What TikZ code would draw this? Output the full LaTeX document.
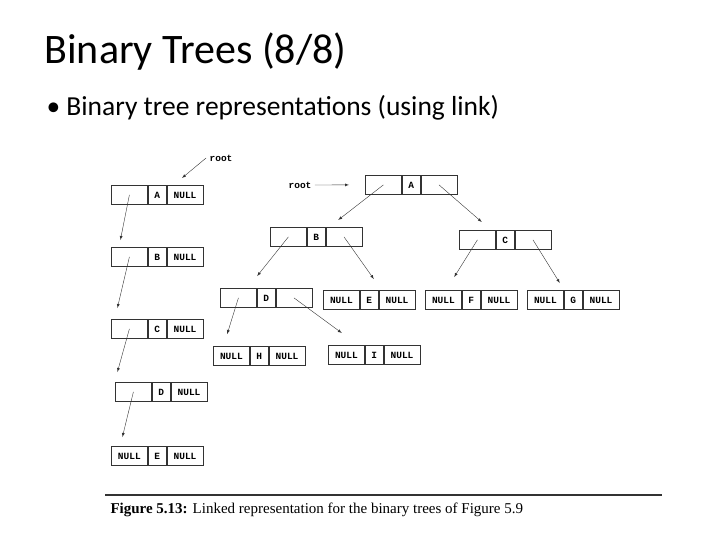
\documentclass[tikz,border=0pt]{standalone}
\usepackage{fontspec}
\setmainfont{Carlito}
\newfontfamily\figfont{Liberation Serif}
\newfontfamily\cellfont{Liberation Mono}
\usetikzlibrary{positioning}
\tikzset{
  cell/.style={draw,thick,black!80,minimum height=19pt,minimum width=36pt,inner sep=0pt,
    text height=6.5pt,text depth=0pt,
    font=\cellfont\bfseries\fontsize{9.5}{10}\selectfont,text=black},
  dcell/.style={cell,minimum width=18pt},
  link/.style={-latex,black!80}
}
% one linked node: name, x, y, left, data, right
\newcommand{\lnode}[6]{%
  \node[cell,anchor=north west] (#1-l) at (#2,#3) {#4};
  \node[dcell,right=0pt of #1-l] (#1-d) {#5};
  \node[cell,right=0pt of #1-d] (#1-r) {#6};
}
\begin{document}
\begin{tikzpicture}[x=1pt,y=-1pt]
  \useasboundingbox (0,0) rectangle (720,540);
  \node[anchor=west,font=\fontsize{42}{46}\selectfont] (title) at (41,52) {Binary Trees (8/8)};
  \node[anchor=west,font=\fontsize{27.5}{30}\selectfont] (sub) at (43,108) {\textbullet{} Binary tree representations (using link)};

  % skewed tree
  \lnode{sA}{111}{185}{}{A}{NULL}
  \lnode{sB}{111}{247}{}{B}{NULL}
  \lnode{sC}{111}{319}{}{C}{NULL}
  \lnode{sD}{115}{382}{}{D}{NULL}
  \lnode{sE}{111}{446}{NULL}{E}{NULL}
  \node[font=\cellfont\bfseries\fontsize{9.5}{10}\selectfont] (sroot) at (221,158) {root};
  \coordinate (sroot-t) at (182,178);
  \draw[link] (sroot.west) -- (sroot-t);
  \foreach\p/\c/\dx/\dy in {sA/sB/-9/7,sB/sC/-12/11,sC/sD/-16/10,sD/sE/-7/9}
    \draw[link] (\p-l.center) -- ([xshift=\dx pt,yshift=\dy pt]\c-l.north);

  % complete tree
  \lnode{A}{365}{175}{}{A}{}
  \lnode{B}{270}{227}{}{B}{}
  \lnode{C}{459}{230}{}{C}{}
  \lnode{D}{220}{288}{}{D}{}
  \lnode{E}{323}{290}{NULL}{E}{NULL}
  \lnode{F}{425}{290}{NULL}{F}{NULL}
  \lnode{G}{527}{290}{NULL}{G}{NULL}
  \lnode{H}{213}{346}{NULL}{H}{NULL}
  \lnode{I}{328}{345}{NULL}{I}{NULL}
  \node[font=\cellfont\bfseries\fontsize{9.5}{10}\selectfont] (root) at (300,185) {root};
  \draw[link] (root.east) -- ([xshift=-16pt]A-l.west);
  \foreach\p/\c/\dx/\dy in {A/B/22/7,B/D/-9/12,C/F/-17/13,D/H/-32/12}
    \draw[link] (\p-l.center) -- ([xshift=\dx pt,yshift=\dy pt]\c-d.north);
  \foreach\p/\c/\dx/\dy in {A/C/-14/8,B/E/14/11,C/G/-4/7,D/I/-23/12}
    \draw[link] (\p-r.center) -- ([xshift=\dx pt,yshift=\dy pt]\c-l.north east);

  % caption
  \draw[line width=1.2pt,black!80] (105,495) -- (662,495);
  \node[anchor=west,font=\figfont\fontsize{15}{17}\selectfont] (cap) at (107,510)
    {\textbf{Figure 5.13:} Linked representation for the binary trees of Figure 5.9};
\end{tikzpicture}
\end{document}
